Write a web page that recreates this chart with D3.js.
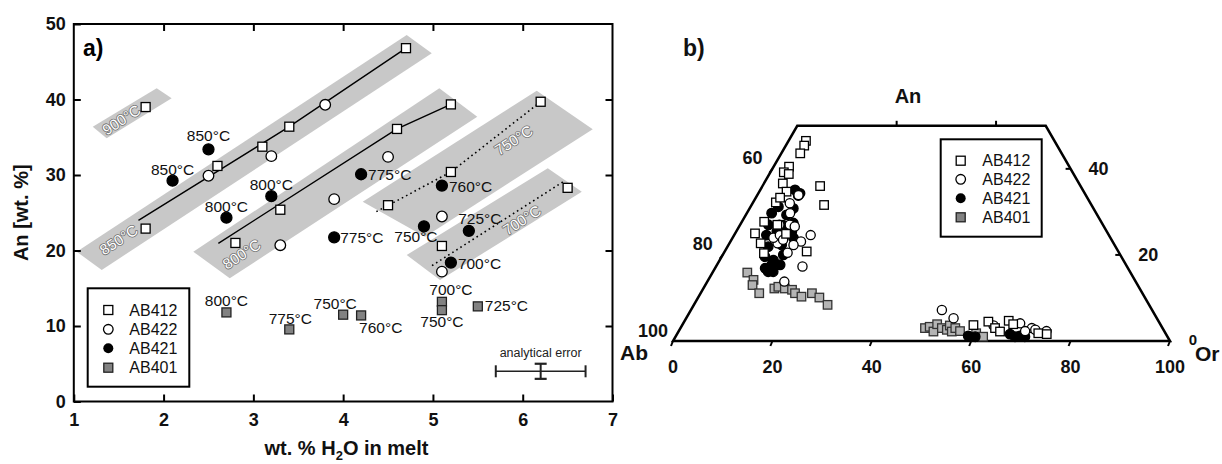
<!DOCTYPE html>
<html><head><meta charset="utf-8">
<script src="https://cdn.jsdelivr.net/npm/d3@7"></script>
<style>body{margin:0;background:#fff} svg{display:block} text{font-family:Arial,"Liberation Sans",sans-serif}</style>
</head><body><svg id="c" width="1222" height="464"></svg>
<script>
// ---------------- DATA ----------------
const seriesNames = ["AB412", "AB422", "AB421", "AB401"];
const xTicksA = [1, 2, 3, 4, 5, 6, 7];
const yTicksA = [0, 10, 20, 30, 40, 50];
const innerXTicksA = [2, 3, 4, 5, 6];
const innerYTicksA = [10, 20, 30, 40];

// panel a: [wt.% H2O in melt, An wt.%]
const ab412 = [[1.8,39.0],[1.8,22.9],[2.6,31.2],[3.1,33.75],[3.4,36.4],[4.7,46.8],[3.3,25.4],[2.8,21.0],[4.6,36.1],[5.2,39.35],[4.5,26.0],[5.2,30.4],[6.2,39.7],[6.5,28.3],[5.1,20.6]];
const ab422 = [[2.5,29.9],[3.2,32.5],[3.8,39.3],[3.3,20.7],[3.9,26.8],[4.5,32.4],[5.1,24.5],[5.1,17.2]];
const ab421 = [[2.5,33.4],[2.1,29.25],[2.7,24.35],[3.2,27.2],[4.2,30.1],[3.9,21.75],[5.1,28.6],[4.9,23.2],[5.4,22.6],[5.2,18.4]];
const ab421Temp = ["850°C","850°C","800°C","800°C","775°C","775°C","760°C","750°C","725°C","700°C"];
const ab401 = [[2.7,11.8],[3.4,9.55],[4.0,11.5],[4.2,11.4],[5.1,13.2],[5.1,12.1],[5.5,12.6]];
const ab401Temp = ["800°C","775°C","750°C","760°C","700°C","750°C","725°C"];

const bandNames = ["900°C","850°C","800°C","750°C","700°C"];
const bandCorners = [
  [[1.211,36.40],[1.923,41.48],[2.090,40.16],[1.366,34.86]],
  [[1.032,19.84],[4.708,48.54],[4.987,46.12],[1.311,17.42]],
  [[2.331,19.84],[5.071,41.48],[5.494,37.72],[2.737,16.32]],
  [[4.218,26.46],[6.156,41.17],[6.780,36.05],[4.912,21.83]],
  [[4.708,19.40],[6.279,30.89],[6.658,27.79],[5.079,16.09]]
];
const bandLabelAt = [[1.53,37.3],[1.5,21.4],[2.87,19.5],[5.9,34.6],[5.99,24.0]];

const fit850 = [[1.72,24.0],[3.4,36.4],[4.7,46.8]];
const fit800 = [[2.61,20.95],[4.6,36.1],[5.2,39.35]];
const fit750 = [[4.37,25.15],[5.2,30.4],[6.2,39.7]];
const fit700 = [[4.99,18.0],[6.45,29.1]];

const errCenter = [6.2, 4.0];
const errH2O = 0.5;
const errAn = 1.0;

// panel b: ternary [An, Or] (Ab = 100 - An - Or)
const tern412 = [[46.5,3.5],[45.4,3.7],[43.6,3.8],[40.5,3.1],[39.2,2.7],[38.8,3.9],[36.6,3.8],[34.7,5.5],[36.0,11.6],[31.6,14.6],[32.2,4.6],[27.7,4.5],[25.0,4.0],[22.7,6.3],[24.9,10.3],[20.4,8.1],[20.8,16.5],[33.3,4.9],[27.0,7.5],
  [3.7,58.6],[4.5,61.2],[3.0,63.3],[2.2,64.7],[4.7,65.2],[3.9,66.5],[1.8,72.6],[1.6,74.4]];
const tern422 = [[32.0,7.5],[33.9,8.3],[29.7,8.7],[27.0,7.9],[24.6,15.4],[23.1,14.2],[22.3,13.1],[20.5,12.8],[22.7,9.7],[24.0,8.2],[17.3,17.4],[13.8,15.5],[24.6,9.2],[27.0,10.0],[23.5,10.4],[26.6,11.2],
  [7.2,50.5],[5.3,53.8],[3.6,62.7],[4.1,67.8],[3.0,70.7],[2.6,71.6],[2.3,74.0],[2.3,69.7]];
const tern421 = [[35.1,7.0],[33.8,8.3],[31.2,5.6],[30.8,8.8],[27.4,10.5],[29.7,5.0],[27.0,5.7],[25.4,11.2],[24.6,6.5],[22.3,10.7],[21.9,8.2],[19.6,8.7],[18.8,10.8],[16.9,10.1],[17.7,11.0],[20.0,12.2],
  [34.3,8.4],[29.3,8.2],[26.9,8.7],[25.4,8.2],[23.9,12.3],[16.1,12.1],[16.1,11.1],[17.7,12.7],
  [1.2,58.8],[1.0,60.3],[1.6,67.0],[1.0,68.3],[1.2,69.2],[1.0,70.3]];
const tern401 = [[15.9,7.0],[14.2,9.1],[13.0,9.5],[11.1,11.8],[12.2,14.3],[12.6,14.9],[12.2,16.4],[11.9,18.0],[11.1,19.0],[10.3,20.7],[11.1,22.4],[10.1,24.4],[8.4,26.9],
  [3.0,49.2],[3.3,50.0],[2.2,51.3],[3.9,51.2],[3.0,52.6],[2.6,53.8],[3.6,53.9],[2.2,55.0],[3.0,55.3],[2.3,56.6],[1.8,60.1],[1.0,61.9]];
const ternOrTicks = [0, 20, 40, 60, 80, 100];
const ternAnTicks = [20, 40];
const ternTopTicks = [20, 40];

// ---------------- DRAW ----------------
const svg = d3.select("#c");
const FONT = 'Arial,"Liberation Sans",sans-serif';

// ===== panel a =====
const x = d3.scaleLinear().domain([1, 7]).range([73.8, 612.5]);
const y = d3.scaleLinear().domain([0, 50]).range([401.5, 24]);
const A = svg.append("g");

// bands
A.selectAll("polygon.band").data(bandCorners).join("polygon")
  .attr("points", d => d.map(p => [x(p[0]), y(p[1])].join(",")).join(" "))
  .attr("fill", "#c8c8c8");
A.selectAll("text.band").data(bandNames).join("text")
  .attr("transform", (d, i) => `translate(${x(bandLabelAt[i][0])},${y(bandLabelAt[i][1])}) rotate(-33)`)
  .attr("text-anchor", "middle").attr("dy", "0.35em")
  .attr("font-size", 15).attr("fill", "#fff").attr("stroke", "#707070").attr("stroke-width", 1.6)
  .attr("paint-order", "stroke").attr("stroke-linejoin", "round")
  .text(d => d);

// lines
const line = d3.line().x(d => x(d[0])).y(d => y(d[1]));
[fit850, fit800].forEach(f => A.append("path").attr("d", line(f)).attr("fill", "none").attr("stroke", "#000").attr("stroke-width", 1.4));
[fit750, fit700].forEach(f => A.append("path").attr("d", line(f)).attr("fill", "none").attr("stroke", "#000").attr("stroke-width", 1.6).attr("stroke-dasharray", "1.6,3.2"));

// frame & axes
A.append("rect").attr("x", x(1)).attr("y", y(50)).attr("width", x(7) - x(1)).attr("height", y(0) - y(50))
  .attr("fill", "none").attr("stroke", "#000").attr("stroke-width", 2);
function styleAxis(g) {
  g.select(".domain").remove();
  g.selectAll("line").attr("stroke-width", 2);
  g.selectAll("text").attr("font-size", 18).attr("font-weight", "bold").attr("font-family", FONT).attr("fill", "#111");
}
A.append("g").attr("transform", `translate(0,${y(0)})`)
  .call(d3.axisBottom(x).tickValues(xTicksA).tickSizeInner(-7).tickSizeOuter(0).tickPadding(12).tickFormat(d3.format("d"))).call(styleAxis);
A.append("g").attr("transform", `translate(${x(1)},0)`)
  .call(d3.axisLeft(y).tickValues(yTicksA).tickSizeInner(-7).tickSizeOuter(0).tickPadding(8).tickFormat(d3.format("d"))).call(styleAxis);
A.append("g").attr("transform", `translate(0,${y(50)})`)
  .call(d3.axisTop(x).tickValues(innerXTicksA).tickSizeInner(-7).tickSizeOuter(0).tickFormat("")).call(styleAxis);
A.append("g").attr("transform", `translate(${x(7)},0)`)
  .call(d3.axisRight(y).tickValues(innerYTicksA).tickSizeInner(-7).tickSizeOuter(0).tickFormat("")).call(styleAxis);

// markers
function squares(g, data, sx, sy, size, fill, stroke) {
  g.selectAll(null).data(data).join("rect")
    .attr("x", d => sx(d) - size / 2).attr("y", d => sy(d) - size / 2)
    .attr("width", size).attr("height", size)
    .attr("fill", fill).attr("stroke", stroke).attr("stroke-width", 1.3);
}
function circles(g, data, sx, sy, r, fill) {
  g.selectAll(null).data(data).join("circle")
    .attr("cx", sx).attr("cy", sy).attr("r", r)
    .attr("fill", fill).attr("stroke", "#000").attr("stroke-width", 1.3);
}
const ax = d => x(d[0]), ay = d => y(d[1]);
squares(A, ab401, ax, ay, 9, "#828282", "#222");
circles(A, ab421, ax, ay, 5.5, "#000");
circles(A, ab422, ax, ay, 5.3, "#fff");
squares(A, ab412, ax, ay, 9, "#fff", "#000");

// temperature labels (offsets in px: dx, dy to baseline, anchor)
const off421 = [[0,-8,"middle"],[0,-6,"middle"],[0,-6,"middle"],[0,-6.5,"middle"],[7,6,"start"],[6,5.5,"start"],[7,6.5,"start"],[-8,16,"middle"],[11,-7,"middle"],[7,6,"start"]];
const off401 = [[0,-6,"middle"],[1,-5,"middle"],[-8,-6,"middle"],[-2,18,"start"],[9,-6.5,"middle"],[0,17,"middle"],[7,5,"start"]];
function tLabels(data, temps, offs) {
  A.selectAll(null).data(data).join("text")
    .attr("x", (d, i) => x(d[0]) + offs[i][0]).attr("y", (d, i) => y(d[1]) + offs[i][1])
    .attr("text-anchor", (d, i) => offs[i][2]).attr("font-size", 15.5).attr("fill", "#111")
    .text((d, i) => temps[i]);
}
tLabels(ab421, ab421Temp, off421);
tLabels(ab401, ab401Temp, off401);

// analytical error
const ex = x(errCenter[0]), ey = y(errCenter[1]);
const eg = A.append("g").attr("stroke", "#222").attr("stroke-width", 1.5);
eg.append("line").attr("x1", x(errCenter[0] - errH2O)).attr("x2", x(errCenter[0] + errH2O)).attr("y1", ey).attr("y2", ey);
[errCenter[0] - errH2O, errCenter[0] + errH2O].forEach(v => eg.append("line").attr("x1", x(v)).attr("x2", x(v)).attr("y1", ey - 6).attr("y2", ey + 6).attr("stroke-width", 2));
eg.append("line").attr("x1", ex).attr("x2", ex).attr("y1", y(errCenter[1] - errAn)).attr("y2", y(errCenter[1] + errAn)).attr("stroke-width", 2);
[errCenter[1] - errAn, errCenter[1] + errAn].forEach(v => eg.append("line").attr("x1", ex - 6).attr("x2", ex + 6).attr("y1", y(v)).attr("y2", y(v)).attr("stroke-width", 2.2));
A.append("text").attr("x", ex).attr("y", y(errCenter[1] + errAn) - 7).attr("text-anchor", "middle").attr("font-size", 12.5).attr("fill", "#222").text("analytical error");

// titles
A.append("text").attr("x", 83).attr("y", 56).attr("font-size", 23).attr("font-weight", "bold").text("a)");
const xt = A.append("text").attr("x", 346.5).attr("y", 455).attr("text-anchor", "middle").attr("font-size", 20).attr("font-weight", "bold").attr("fill", "#111");
xt.append("tspan").text("wt. % H");
xt.append("tspan").attr("font-size", 13).attr("dy", 5).text("2");
xt.append("tspan").attr("dy", -5).text("O in melt");
A.append("text").attr("transform", `translate(28,${(y(0) + y(50)) / 2}) rotate(-90)`).attr("text-anchor", "middle")
  .attr("font-size", 20).attr("font-weight", "bold").attr("fill", "#111").text("An [wt. %]");

// legend
function legend(g, lx, ly, w, h, sx, tx, rows) {
  g.append("rect").attr("x", lx).attr("y", ly).attr("width", w).attr("height", h).attr("fill", "#fff").attr("stroke", "#000").attr("stroke-width", 2);
  seriesNames.forEach((nm, i) => {
    const cy = rows[i];
    if (i === 0) g.append("rect").attr("x", sx - 4.5).attr("y", cy - 4.5).attr("width", 9).attr("height", 9).attr("fill", "#fff").attr("stroke", "#000").attr("stroke-width", 1.3);
    if (i === 1) g.append("circle").attr("cx", sx).attr("cy", cy).attr("r", 4.8).attr("fill", "#fff").attr("stroke", "#000").attr("stroke-width", 1.3);
    if (i === 2) g.append("circle").attr("cx", sx).attr("cy", cy).attr("r", 5).attr("fill", "#000");
    if (i === 3) g.append("rect").attr("x", sx - 4.5).attr("y", cy - 4.5).attr("width", 9).attr("height", 9).attr("fill", "#828282").attr("stroke", "#222").attr("stroke-width", 1.3);
    g.append("text").attr("x", tx).attr("y", cy).attr("dy", "0.36em").attr("font-size", 16).attr("fill", "#111").text(nm);
  });
}
legend(A, 87.7, 288.3, 101.6, 98.4, 108.3, 129.3, [310, 329.3, 348.3, 367.7]);

// ===== panel b =====
const B = svg.append("g");
const xT = d3.scaleLinear().domain([0, 100]).range([673, 1170]);
const yT = d3.scaleLinear().domain([0, 100]).range([341, 341 - 497 * Math.sqrt(3) / 2]);
const P = (an, or) => [xT(or + an / 2), yT(an)];

B.append("path").attr("d", d3.line()([P(0, 0), P(0, 100), P(50, 50), P(50, 0)]) + "Z")
  .attr("fill", "none").attr("stroke", "#000").attr("stroke-width", 2.5).attr("stroke-linejoin", "miter");

const tk = B.append("g").attr("stroke", "#000").attr("stroke-width", 2);
ternOrTicks.forEach(v => { const p = P(0, v); tk.append("line").attr("x1", p[0]).attr("y1", p[1]).attr("x2", p[0] - 2).attr("y2", p[1] + 5); });
ternTopTicks.forEach(v => { const p = P(50, v); tk.append("line").attr("x1", p[0]).attr("y1", p[1]).attr("x2", p[0]).attr("y2", p[1] - 5); });
ternAnTicks.forEach(v => { const p = P(v, 0); tk.append("line").attr("x1", p[0]).attr("y1", p[1]).attr("x2", p[0] - 3).attr("y2", p[1] + 4); });
ternAnTicks.forEach(v => { const p = P(v, 100 - v); tk.append("line").attr("x1", p[0]).attr("y1", p[1]).attr("x2", p[0] - 5).attr("y2", p[1]); });

const lab = (g, xx, yy, t, fs, anchor) => g.append("text").attr("x", xx).attr("y", yy).attr("text-anchor", anchor || "middle")
  .attr("font-size", fs).attr("font-weight", "bold").attr("fill", "#111").text(t);
ternOrTicks.forEach(v => lab(B, xT(v), 373, String(v), 18));
[0].concat(ternAnTicks).forEach(v => { const p = P(v, 0); lab(B, p[0] - 20, p[1] - 4.5, String(100 - v), 18); });
ternAnTicks.forEach(v => { const p = P(v, 100 - v); lab(B, p[0] + 28, p[1] + 6.5, String(v), 18); });
lab(B, 1193, 345, "0", 15);
lab(B, 1195, 361, "Or", 21, "start");
lab(B, 648, 360, "Ab", 21, "end");
lab(B, 908, 103, "An", 20);
lab(B, 683, 56, "b)", 23, "start");

const tx_ = d => P(d[0], d[1])[0], ty_ = d => P(d[0], d[1])[1];
squares(B, tern401, tx_, ty_, 8.5, "#b4b4b4", "#333");
circles(B, tern421, tx_, ty_, 4.8, "#000");
circles(B, tern422, tx_, ty_, 4.6, "#fff");
squares(B, tern412, tx_, ty_, 8.5, "#fff", "#000");

legend(B, 940.7, 139.3, 101, 97.4, 960.7, 982.3, [160.7, 179.3, 198.3, 217.3]);
</script>
</body></html>
